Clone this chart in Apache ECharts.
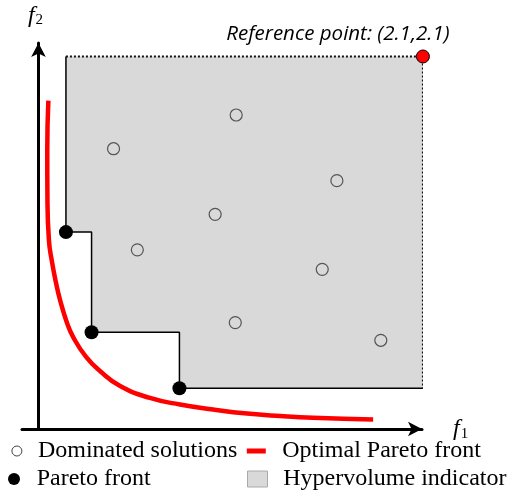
<!DOCTYPE html>
<html><head><meta charset="utf-8">
<script src="https://cdn.jsdelivr.net/npm/echarts@6/dist/echarts.min.js"></script>
<style>html,body{margin:0;padding:0;background:#fff}#c{width:509px;height:498px}</style>
</head><body><div id="c"></div>
<script>
// ---- data ----
const referencePoint = [2.1, 2.1];
const referenceLabel = 'Reference point: (2.1,2.1)';
const paretoFrontX = [0.15, 0.29, 0.77];
const paretoFrontY = [1.11, 0.545, 0.23];
const dominatedX = [1.08, 0.41, 1.63, 0.965, 0.54, 1.55, 1.075, 1.87];
const dominatedY = [1.77, 1.58, 1.40, 1.21, 1.01, 0.90, 0.60, 0.50];
const optimalFrontX = [0.054, 0.048, 0.049, 0.057, 0.072, 0.096, 0.118, 0.156, 0.189, 0.260, 0.336, 0.446, 0.609, 0.773, 0.954, 1.140, 1.320, 1.500, 1.828];
const optimalFrontY = [1.851, 1.573, 1.291, 1.065, 0.953, 0.823, 0.727, 0.598, 0.519, 0.406, 0.327, 0.242, 0.175, 0.138, 0.110, 0.087, 0.073, 0.063, 0.054];
const legendNames = ['Dominated solutions', 'Pareto front', 'Optimal Pareto front', 'Hypervolume indicator'];

// ---- derived ----
const pareto = paretoFrontX.map((x, i) => [x, paretoFrontY[i]]);
const dominated = dominatedX.map((x, i) => [x, dominatedY[i]]);
const optimal = optimalFrontX.map((x, i) => [x, optimalFrontY[i]]);
const [rx, ry] = referencePoint;
const step = [[pareto[0][0], ry]];
pareto.forEach((p, i) => {
  step.push([p[0], p[1]]);
  if (i < pareto.length - 1) step.push([pareto[i + 1][0], p[1]]);
});
step.push([rx, pareto[pareto.length - 1][1]]);
const polygon = step.concat([[rx, ry]]);
const dotted = [[pareto[0][0], ry], [rx, ry], [rx, pareto[pareto.length - 1][1]]];

const serif = 'Liberation Serif';
const legendText = { fontFamily: serif, fontSize: 24, color: '#000' };
const fRich = {
  i: { fontFamily: serif, fontStyle: 'italic', fontSize: 24, color: '#000' },
  s: { fontFamily: serif, fontSize: 15, color: '#000', padding: [10, 0, 0, 1] }
};

const chart = echarts.init(document.getElementById('c'));
chart.setOption({
  animation: false,
  backgroundColor: '#fff',
  grid: { left: 22, right: 87, top: 43, bottom: 69 },
  xAxis: {
    type: 'value', min: -0.09, max: 2.095,
    splitLine: { show: false }, axisTick: { show: false }, axisLabel: { show: false },
    axisLine: { onZero: true, symbol: ['none', 'arrow'], symbolSize: [11, 14], lineStyle: { color: '#000', width: 3 } },
    name: '{i|f}{s|1}', nameLocation: 'end', nameGap: 31,
    nameTextStyle: { rich: fRich }
  },
  yAxis: {
    type: 'value', min: 0, max: 2.176,
    splitLine: { show: false }, axisTick: { show: false }, axisLabel: { show: false },
    axisLine: { onZero: true, symbol: ['none', 'arrow'], symbolSize: [11, 14], lineStyle: { color: '#000', width: 3 } },
    name: '{i|f}{s|2}', nameLocation: 'end', nameGap: 15,
    nameTextStyle: { rich: fRich, padding: [0, 6, 0, 0] }
  },
  legend: [
    { data: [{ name: legendNames[0], icon: 'circle', itemStyle: { color: '#fff', borderColor: '#444', borderWidth: 1, opacity: 1 } }],
      left: 11.4, top: 439, padding: 0, itemWidth: 32, itemHeight: 10, textStyle: legendText, selectedMode: false },
    { data: [{ name: legendNames[1], icon: 'circle', itemStyle: { color: '#000', opacity: 1 } }],
      left: 8, top: 467, padding: 0, itemWidth: 35.4, itemHeight: 12, textStyle: legendText, selectedMode: false },
    { data: [{ name: legendNames[2], icon: 'path://M0,0h19v5h-19z', itemStyle: { color: '#ff0000', opacity: 1 } }],
      left: 246.8, top: 439, padding: 0, itemWidth: 41.8, itemHeight: 5, textStyle: legendText, selectedMode: false },
    { data: [{ name: legendNames[3], icon: 'path://M0,0h20v16h-20z', itemStyle: { color: '#d9d9d9', borderColor: '#aaa', borderWidth: 1, opacity: 1 } }],
      left: 247, top: 467, padding: 0, itemWidth: 41.4, itemHeight: 16, textStyle: legendText, selectedMode: false }
  ],
  series: [
    {
      name: legendNames[3], type: 'custom', data: [0], clip: false, z: 1,
      renderItem: function (params, api) {
        return {
          type: 'polygon',
          shape: { points: polygon.map(p => api.coord(p)) },
          style: { fill: '#d9d9d9', stroke: 'none' }
        };
      }
    },
    {
      type: 'line', data: step, showSymbol: false, clip: false, z: 2, silent: true,
      lineStyle: { color: '#000', width: 1.5 }
    },
    {
      type: 'line', data: dotted, showSymbol: false, clip: false, z: 2, silent: true,
      lineStyle: { color: '#111', width: 2, type: [2, 2] }
    },
    {
      name: legendNames[2], type: 'line', data: optimal, smooth: 0.5, showSymbol: false, clip: false, z: 3,
      lineStyle: { color: '#ff0000', width: 4.5, cap: 'butt' }, itemStyle: { color: '#ff0000' }
    },
    {
      name: legendNames[0], type: 'scatter', data: dominated, symbol: 'circle', symbolSize: 12, clip: false, z: 4,
      itemStyle: { color: 'rgba(0,0,0,0)', borderColor: '#555', borderWidth: 1.2, opacity: 1 }
    },
    {
      name: legendNames[1], type: 'scatter', data: pareto, symbol: 'circle', symbolSize: 14, clip: false, z: 5,
      itemStyle: { color: '#000', opacity: 1 }
    },
    {
      name: 'Reference point', type: 'scatter', data: [referencePoint], symbol: 'circle', symbolSize: 13, clip: false, z: 6,
      itemStyle: { color: '#ff0000', borderColor: '#000', borderWidth: 1, opacity: 1 },
      label: {
        show: true, position: 'top', distance: 5, offset: [-85, 0],
        formatter: referenceLabel,
        fontFamily: 'Open Sans', fontStyle: 'italic', fontSize: 20.5, color: '#000'
      }
    }
  ]
});
</script></body></html>
